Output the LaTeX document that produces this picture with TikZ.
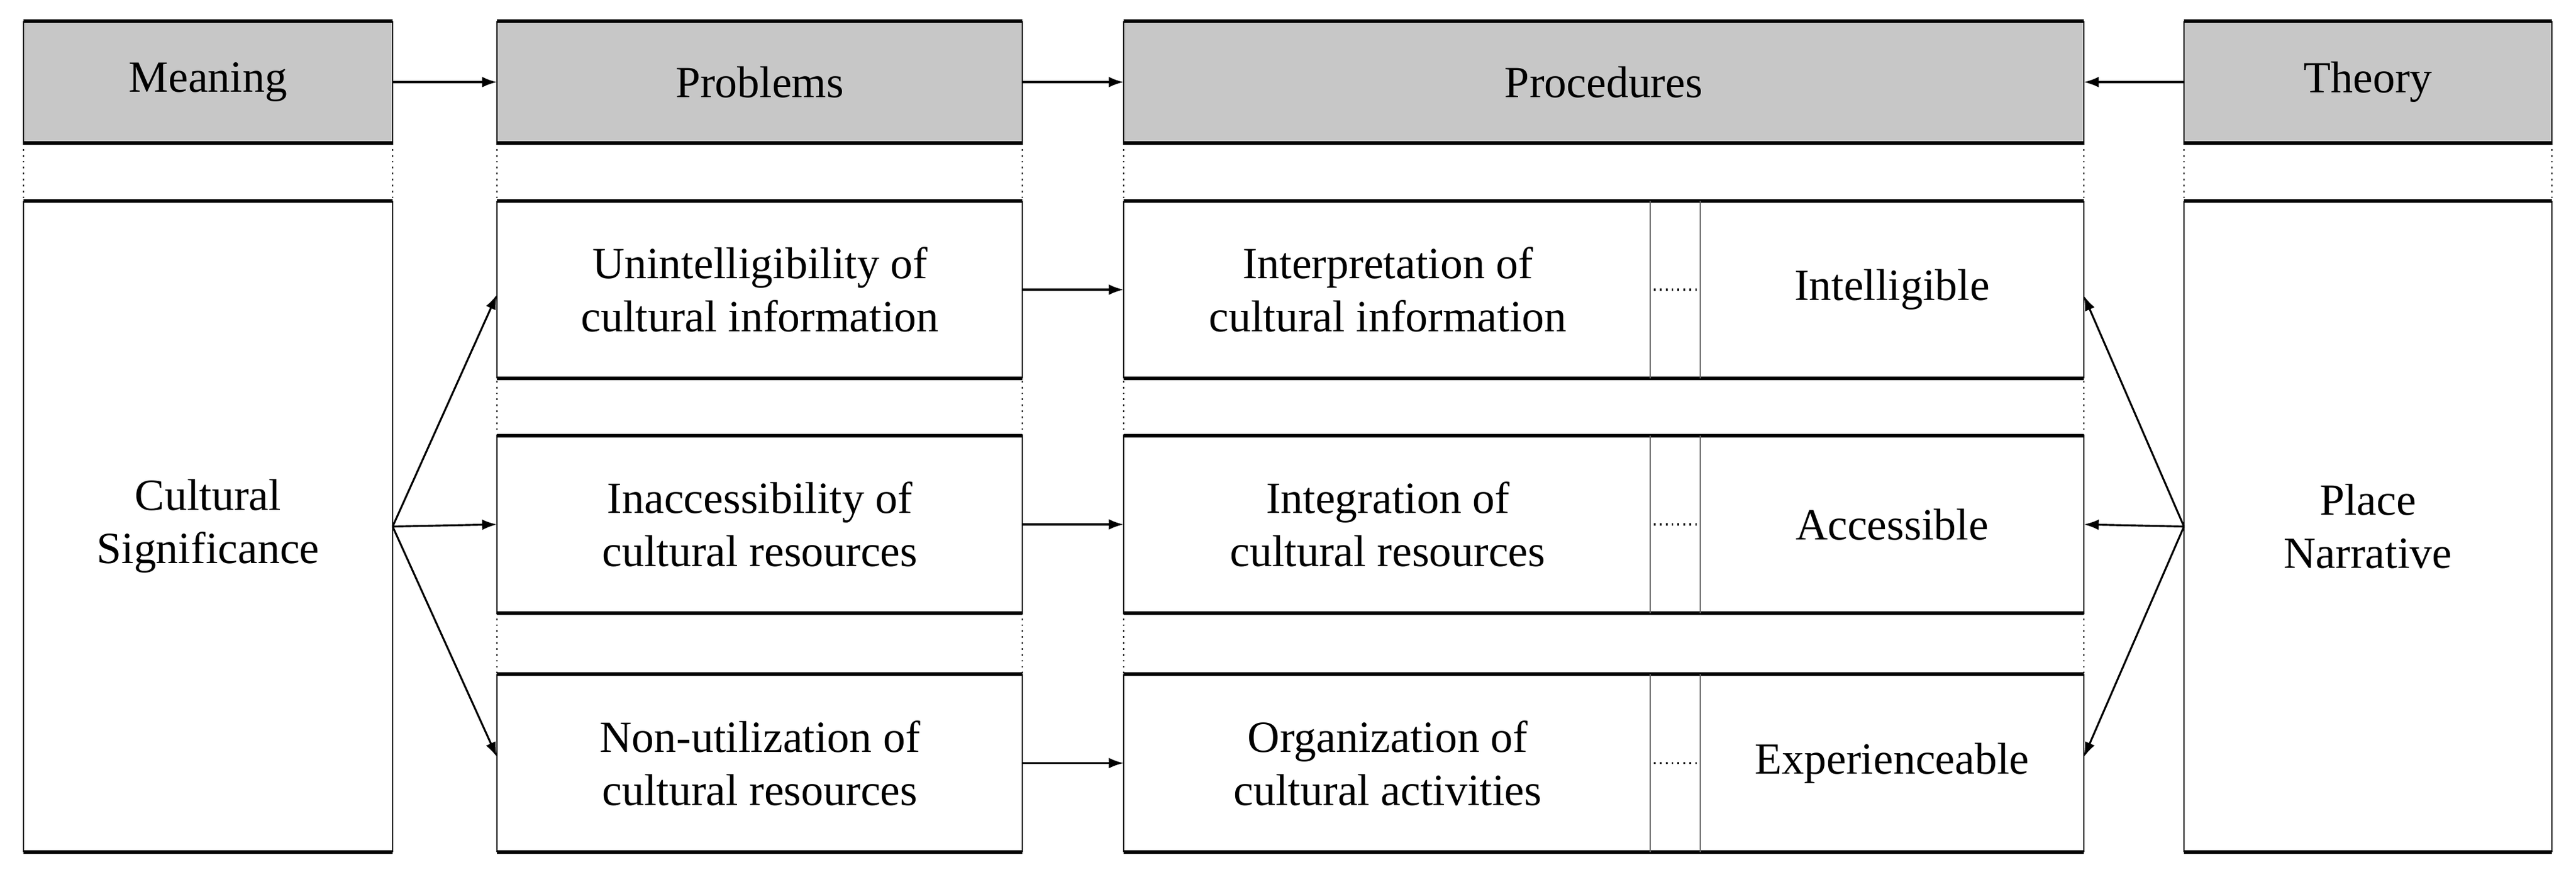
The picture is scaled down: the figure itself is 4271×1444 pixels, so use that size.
\documentclass[tikz,border=0pt]{standalone}
\usepackage{fontspec}
\setmainfont{Liberation Serif}
\usetikzlibrary{arrows.meta,calc}
\begin{document}
\begin{tikzpicture}[x=0.01cm,y=-0.01cm,
  txt/.style={font=\fontsize{21}{25}\selectfont, align=center},
  hd/.style={fill=black!22},
  edge/.style={line width=1.6pt},
  side/.style={line width=0.6pt},
  dots/.style={line width=0.8pt, dotted},
  arr/.style={line width=0.9pt, -{Latex[length=7pt,width=5pt]}}]
\useasboundingbox (0,0) rectangle (4271,1444);
% dotted column edges
\foreach \x in {39,651,824,1695,1863,3455,3621,4231}
  \draw[dots] (\x,237) -- (\x,1412);
% headers
\foreach \n/\a/\b/\t in {hm/39/651/Meaning, hp/824/1695/Problems, hr/1863/3455/Procedures, ht/3621/4231/Theory}{
  \fill[hd] (\a,35) rectangle (\b,237);
  \draw[side] (\a,35) -- (\a,237) (\b,35) -- (\b,237);
  \draw[edge] (\a,35) -- (\b,35) (\a,237) -- (\b,237);
  \node[txt] (\n) at ({(\a+\b)/2},136) {\t};
  \coordinate (\n w) at (\a,136); \coordinate (\n e) at (\b,136);
}
% boxes
\foreach \n/\a/\b/\ya/\yb in {cs/39/651/333/1412, pn/3621/4231/333/1412,
  p1/824/1695/333/627, p2/824/1695/722/1016, p3/824/1695/1117/1412,
  r1/1863/3455/333/627, r2/1863/3455/722/1016, r3/1863/3455/1117/1412}{
  \fill[white] (\a,\ya) rectangle (\b,\yb);
  \draw[side] (\a,\ya) -- (\a,\yb) (\b,\ya) -- (\b,\yb);
  \draw[edge] (\a,\ya) -- (\b,\ya) (\a,\yb) -- (\b,\yb);
  \coordinate (\n w) at (\a,{(\ya+\yb)/2}); \coordinate (\n e) at (\b,{(\ya+\yb)/2});
}
\node[txt] (cs) at (345,872) {Cultural\\Significance};
\node[txt] (pn) at (3926,872) {Place\\Narrative};
\node[txt] (p1) at (1260,480) {Unintelligibility of\\cultural information};
\node[txt] (p2) at (1260,869) {Inaccessibility of\\cultural resources};
\node[txt] (p3) at (1260,1265) {Non-utilization of\\cultural resources};
\foreach \i/\ya/\yb/\l/\r in {1/333/627/{Interpretation of\\cultural information}/Intelligible,
  2/722/1016/{Integration of\\cultural resources}/Accessible,
  3/1117/1412/{Organization of\\cultural activities}/Experienceable}{
  \draw[line width=0.4pt, black!60] (2736,\ya) -- (2736,\yb) (2819,\ya) -- (2819,\yb);
  \draw[dots, line width=1pt] (2742,{(\ya+\yb)/2}) -- (2813,{(\ya+\yb)/2});
  \node[txt] (rl\i) at (2301,{(\ya+\yb)/2}) {\l};
  \node[txt] (rr\i) at (3137,{(\ya+\yb)/2}) {\r};
}
% arrows
\draw[arr] (hme) -- (hpw);
\draw[arr] (hpe) -- (hrw);
\draw[arr] (htw) -- (hre);
\draw[arr] (cse) -- ($(p1w)+(0,8)$);
\draw[arr] (cse) -- (p2w);
\draw[arr] (cse) -- ($(p3w)+(0,-10)$);
\foreach \i in {1,2,3} \draw[arr] (p\i e) -- (r\i w);
\draw[arr] (pnw) -- ($(r1e)+(0,10)$);
\draw[arr] (pnw) -- (r2e);
\draw[arr] (pnw) -- ($(r3e)+(0,-10)$);
\end{tikzpicture}
\end{document}
